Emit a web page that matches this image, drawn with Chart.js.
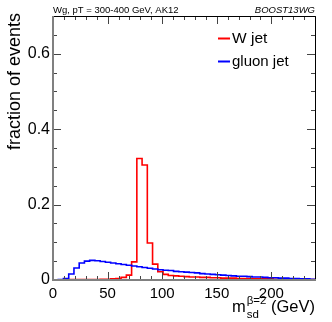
<!DOCTYPE html>
<html>
<head>
<meta charset="utf-8">
<script src="https://cdn.jsdelivr.net/npm/chart.js@4/dist/chart.umd.min.js"></script>
<style>
html,body{margin:0;padding:0;background:#fff;}
#wrap{width:332px;height:322px;position:relative;}
</style>
</head>
<body>
<div id="wrap"><canvas id="c" width="332" height="322"></canvas></div>
<script>
// ---- data ----
const binWidth = 4.8;       // GeV, 50 bins over 0-240
const wJet = [
  0.000,0.000,0.001,0.001,0.001,0.001,0.001,0.001,0.001,0.002,
  0.002,0.003,0.004,0.007,0.013,0.048,0.322,0.305,0.098,0.042,
  0.022,0.015,0.012,0.011,0.010,0.009,0.008,0.008,0.007,0.007,
  0.006,0.006,0.005,0.005,0.005,0.004,0.004,0.004,0.003,0.003,
  0.003,0.003,0.002,0.002,0.002,0.002,0.002,0.001,0.001,0.001
];
const gluonJet = [
  0.000,0.001,0.004,0.016,0.032,0.045,0.050,0.052,0.051,0.049,
  0.047,0.045,0.043,0.041,0.039,0.037,0.035,0.033,0.031,0.029,
  0.027,0.026,0.025,0.023,0.022,0.021,0.020,0.019,0.017,0.016,
  0.015,0.014,0.013,0.012,0.011,0.010,0.010,0.009,0.008,0.008,
  0.007,0.006,0.006,0.005,0.005,0.004,0.004,0.003,0.003,0.002
];
const seriesNames = ['W jet', 'gluon jet'];
const xTickValues = [0, 50, 100, 150, 200];
const xTickLabels = ['0', '50', '100', '150', '200'];
const yTickValues = [0, 0.2, 0.4, 0.6];
const yTickLabels = ['0', '0.2', '0.4', '0.6'];
const headerLeft = 'Wg, pT = 300-400 GeV, AK12';
const headerRight = 'BOOST13WG';
const yTitle = 'fraction of events';

function toSteps(vals){
  const pts = vals.map((v,i)=>({x:i*binWidth, y:v}));
  pts.push({x:vals.length*binWidth, y:vals[vals.length-1]});
  return pts;
}

const FONT = '"Liberation Sans", Arial, Helvetica, sans-serif';
const RED = '#ff0000', BLUE = '#0000ff';

const rootStyle = {
  id:'rootStyle',
  afterDraw(chart){
    const ctx = chart.ctx, a = chart.chartArea;
    const xs = chart.scales.x, ys = chart.scales.y;
    ctx.save();
    // ticks
    ctx.strokeStyle = '#444';
    ctx.lineWidth = 1;
    ctx.beginPath();
    for(let v=0; v<=240; v+=10){
      const px = Math.round(xs.getPixelForValue(v))+0.5;
      const len = (v%50===0)?8:4;
      ctx.moveTo(px,a.bottom); ctx.lineTo(px,a.bottom-len);
      ctx.moveTo(px,a.top); ctx.lineTo(px,a.top+len);
    }
    for(let k=0;k<=14;k++){
      const v = k*0.05;
      const py = Math.round(ys.getPixelForValue(v))+0.5;
      const len = (k%4===0)?8:4;
      ctx.moveTo(a.left,py); ctx.lineTo(a.left+len,py);
      ctx.moveTo(a.right,py); ctx.lineTo(a.right-len,py);
    }
    ctx.stroke();
    // frame
    ctx.strokeStyle = '#000';
    ctx.lineWidth = 1;
    ctx.beginPath();
    ctx.moveTo(a.left, a.top+0.5); ctx.lineTo(a.right+0.5, a.top+0.5);
    ctx.lineTo(a.right+0.5, a.bottom);
    ctx.stroke();
    ctx.strokeStyle = '#808080';
    ctx.lineWidth = 2;
    ctx.beginPath();
    ctx.moveTo(a.left, a.top); ctx.lineTo(a.left, a.bottom);
    ctx.lineTo(a.right+1, a.bottom);
    ctx.stroke();

    ctx.fillStyle = '#000';
    // y tick labels
    ctx.font = '16px '+FONT;
    ctx.textAlign = 'right'; ctx.textBaseline = 'middle';
    yTickValues.forEach((v,i)=>{
      ctx.fillText(yTickLabels[i], a.left-3, ys.getPixelForValue(v));
    });
    // x tick labels
    ctx.font = '15px '+FONT;
    ctx.textAlign = 'center'; ctx.textBaseline = 'alphabetic';
    xTickValues.forEach((v,i)=>{
      ctx.fillText(xTickLabels[i], xs.getPixelForValue(v), 298);
    });
    // header
    ctx.font = '9.5px '+FONT;
    ctx.textAlign = 'left';
    ctx.fillText(headerLeft, a.left, 12.5);
    ctx.font = 'italic 9.5px '+FONT;
    ctx.textAlign = 'right';
    ctx.fillText(headerRight, a.right, 12.5);
    // y title
    ctx.save();
    ctx.translate(20, 13);
    ctx.rotate(-Math.PI/2);
    ctx.font = '18px '+FONT;
    ctx.textAlign = 'right';
    ctx.fillText(yTitle, 0, 0);
    ctx.restore();
    // x title: m_sd^{beta=2} (GeV), right aligned
    ctx.textAlign = 'left';
    ctx.font = '16.5px '+FONT;
    const mW = ctx.measureText('m').width;
    const tailW = ctx.measureText(' (GeV)').width;
    ctx.font = '11.5px '+FONT;
    const supW = ctx.measureText('\u03B2=2').width;
    const subW = ctx.measureText('sd').width;
    const scriptW = Math.max(supW, subW);
    const total = mW + scriptW + tailW + 1;
    let x0 = a.right - total;
    ctx.font = '16.5px '+FONT;
    ctx.fillText('m', x0, 312);
    ctx.font = '11.5px '+FONT;
    ctx.fillText('\u03B2=2', x0+mW+1, 304);
    ctx.fillText('sd', x0+mW+1, 318);
    ctx.font = '16.5px '+FONT;
    ctx.fillText(' (GeV)', x0+mW+scriptW+1, 312);
    // legend
    const leg = [{c:RED, t:seriesNames[0], y:38.5, size:15.5},{c:BLUE, t:seriesNames[1], y:61.5, size:15}];
    leg.forEach(l=>{
      ctx.strokeStyle = l.c; ctx.lineWidth = 2;
      ctx.beginPath(); ctx.moveTo(218, l.y); ctx.lineTo(230, l.y); ctx.stroke();
      ctx.font = l.size+'px '+FONT;
      ctx.textBaseline = 'middle';
      ctx.fillText(l.t, 232, l.y+0.5);
    });
    ctx.restore();
  }
};

new Chart(document.getElementById('c'), {
  type:'line',
  data:{
    datasets:[
      {label:seriesNames[0], data:toSteps(wJet), borderColor:RED, borderWidth:1.6, stepped:'before', pointRadius:0, fill:false, order:1},
      {label:seriesNames[1], data:toSteps(gluonJet), borderColor:BLUE, borderWidth:1.6, stepped:'before', pointRadius:0, fill:false, order:0}
    ]
  },
  options:{
    responsive:false, animation:false, devicePixelRatio:1,
    layout:{padding:{left:53, top:16, right:17, bottom:42}},
    plugins:{legend:{display:false}, tooltip:{enabled:false}},
    scales:{
      x:{type:'linear', min:0, max:240, display:false},
      y:{type:'linear', min:0, max:0.7, display:false}
    }
  },
  plugins:[rootStyle]
});
</script>
</body>
</html>
